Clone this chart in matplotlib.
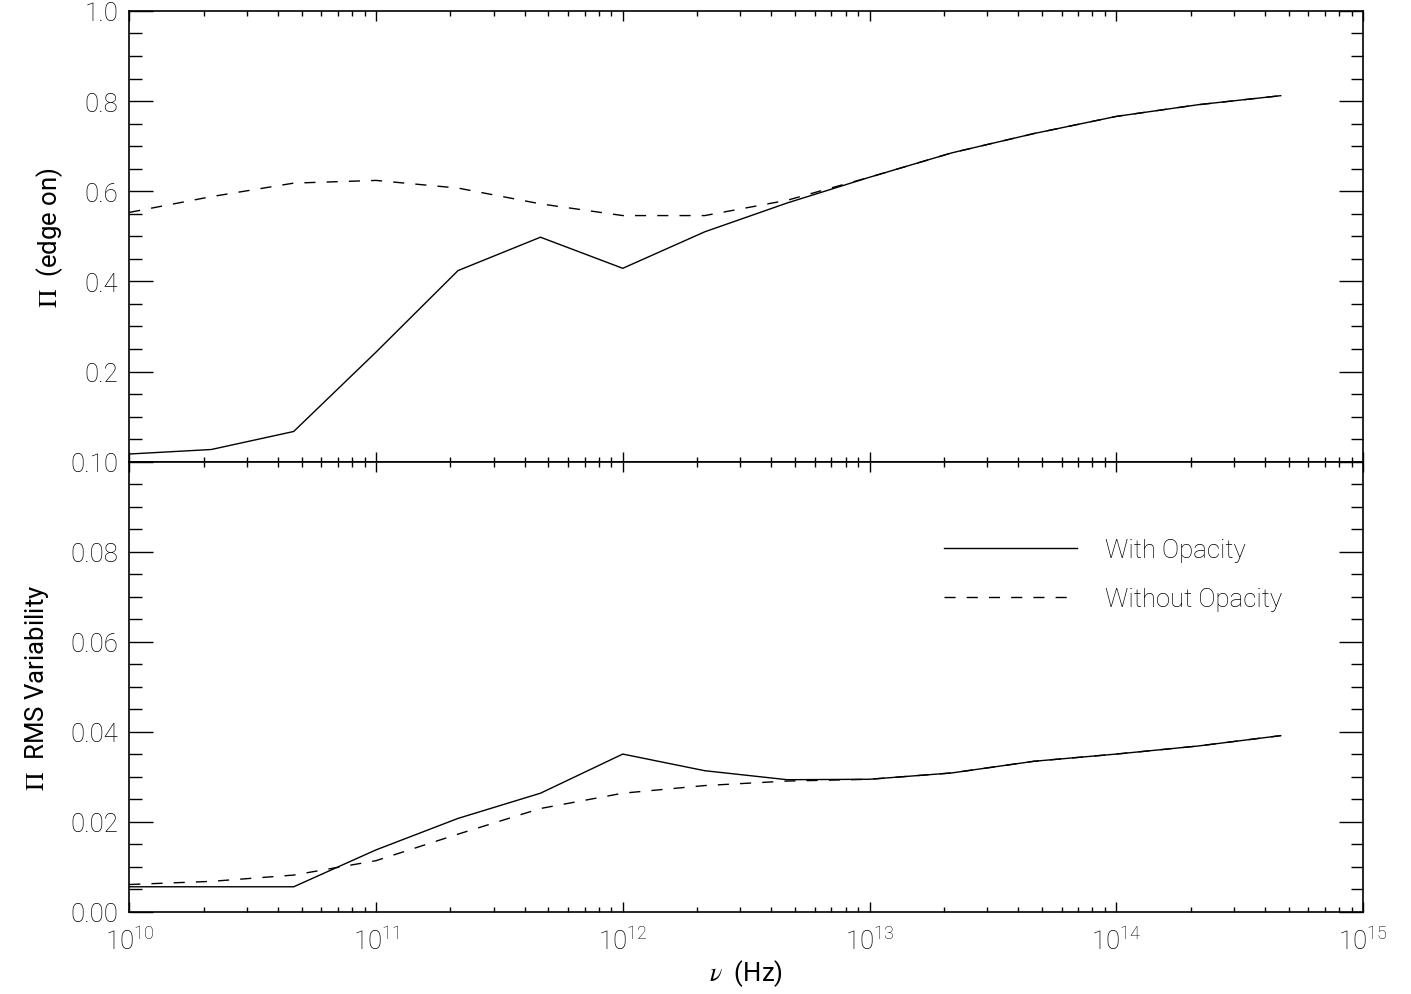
import numpy as np
import matplotlib
matplotlib.use("Agg")
import matplotlib.pyplot as plt
from matplotlib.ticker import MultipleLocator, LogLocator, NullFormatter, FormatStrFormatter

plt.rcParams['font.family'] = ['Roboto', 'DejaVu Sans']
plt.rcParams['font.weight'] = 'light'
plt.rcParams['mathtext.fontset'] = 'stix'

# frequencies (Hz)
nu = [1e10, 2.15e10, 4.64e10, 1e11, 2.15e11, 4.64e11, 1e12, 2.15e12, 4.64e12,
      1e13, 2.15e13, 4.64e13, 1e14, 2.15e14, 4.64e14]

# edge-on polarization fraction
pol_with = [0.017, 0.027, 0.067, 0.243, 0.424, 0.498, 0.429, 0.510, 0.574,
            0.631, 0.685, 0.728, 0.766, 0.792, 0.812]
pol_without = [0.553, 0.588, 0.618, 0.624, 0.607, 0.572, 0.546, 0.546, 0.580,
               0.631, 0.685, 0.728, 0.766, 0.792, 0.812]

# RMS variability of polarization fraction
rms_with = [0.0055, 0.0055, 0.0055, 0.0137, 0.0207, 0.0263, 0.0350, 0.0313, 0.0293,
            0.0294, 0.0308, 0.0334, 0.0350, 0.0368, 0.0391]
rms_without = [0.0060, 0.0067, 0.0081, 0.0113, 0.0172, 0.0229, 0.0263, 0.0280, 0.0290,
               0.0294, 0.0308, 0.0334, 0.0350, 0.0368, 0.0391]

fig = plt.figure(figsize=(14.11, 9.95), dpi=100)
L, R = 0.0916, 0.966
ax1 = fig.add_axes([L, 0.535, R - L, 0.988 - 0.535])
ax2 = fig.add_axes([L, 0.0829, R - L, 0.535 - 0.0829], sharex=ax1)

fs = 18.5
dash = (8, 8)

ax1.plot(nu, pol_with, color='black', lw=1.0)
ax1.plot(nu, pol_without, color='black', lw=1.0, dashes=dash)
ax2.plot(nu, rms_with, color='black', lw=1.0, label='With Opacity')
ax2.plot(nu, rms_without, color='black', lw=1.0, dashes=dash, label='Without Opacity')

ax1.set_xscale('log')
ax1.set_xlim(1e10, 1e15)
ax1.set_ylim(0.0, 1.0)
ax2.set_ylim(0.0, 0.10)

ax1.yaxis.set_major_locator(MultipleLocator(0.2))
ax1.yaxis.set_minor_locator(MultipleLocator(0.05))
ax1.yaxis.set_major_formatter(FormatStrFormatter('%.1f'))
ax2.yaxis.set_major_locator(MultipleLocator(0.02))
ax2.yaxis.set_minor_locator(MultipleLocator(0.005))
ax2.yaxis.set_major_formatter(FormatStrFormatter('%.2f'))
ax2.xaxis.set_major_locator(LogLocator(base=10, numticks=10))
ax2.xaxis.set_minor_locator(LogLocator(base=10, subs=np.arange(2, 10), numticks=20))
ax2.xaxis.set_minor_formatter(NullFormatter())

for ax in (ax1, ax2):
    for s in ax.spines.values():
        s.set_linewidth(1.2)
    ax.tick_params(axis='y', which='major', direction='in', length=17, width=1.0,
                   left=True, right=True, labelsize=fs, pad=8)
    ax.tick_params(axis='y', which='minor', direction='in', length=9, width=1.0,
                   left=True, right=True)
    ax.tick_params(axis='x', which='major', direction='in', length=7.5, width=1.0,
                   top=True, bottom=True, labelsize=fs, pad=11)
    ax.tick_params(axis='x', which='minor', direction='in', length=3.8, width=1.0,
                   top=True, bottom=True)

ax1.tick_params(axis='x', labelbottom=False)
# hide the 0.0 label of the top panel
ax1.set_yticks([0.2, 0.4, 0.6, 0.8, 1.0])

ax1.set_ylabel(r'$\Pi$  (edge on)', fontsize=fs, labelpad=14)
ax2.set_ylabel(r'$\Pi$  RMS Variability', fontsize=fs, labelpad=14)
ax2.set_xlabel(r'$\nu$  (Hz)', fontsize=fs, labelpad=2)
fig.align_ylabels([ax1, ax2])

ax2.legend(loc='upper left', bbox_to_anchor=(0.660, 0.831), frameon=False,
           fontsize=fs, handlelength=5.2, handletextpad=1.1,
           labelspacing=0.98, borderpad=0, borderaxespad=0)

fig.savefig('out.png', dpi=100)
